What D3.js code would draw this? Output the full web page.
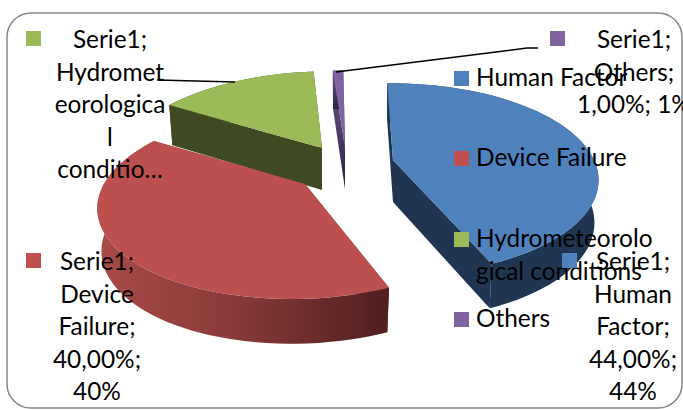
<!DOCTYPE html>
<html>
<head>
<meta charset="utf-8">
<script src="https://cdnjs.cloudflare.com/ajax/libs/d3/7.8.5/d3.min.js"></script>
<style>
html, body { margin: 0; padding: 0; background: #fff; }
svg { display: block; }
text { font-family: Lato, "Open Sans", sans-serif; font-size: 24.4px; fill: #000; }
</style>
</head>
<body>
<svg id="chart" width="683" height="410"></svg>
<script>
const categories = ["Human Factor", "Device Failure", "Hydrometeorological conditions", "Others"];
const shares = [44, 40, 15, 1];

const legendLines = [["Human Factor"], ["Device Failure"], ["Hydrometeorolo", "gical conditions"], ["Others"]];
const labelLines = [
  ["Serie1;", "Human", "Factor;", "44,00%;", "44%"],
  ["Serie1;", "Device", "Failure;", "40,00%;", "40%"],
  ["Serie1;", "Hydromet", "eorologica", "l", "conditio…"],
  ["Serie1;", "Others;", "1,00%; 1%"]
];

const topColors = ["#4f81bd", "#bc504e", "#9bbb59", "#8064a2"];
const sideColors = ["#1f3552", "url(#redSide)", "#404a22", "url(#purpleSide)"];
const markerColors = ["#4f81bd", "#c0504d", "#9bbb59", "#8064a2"];

// where each exploded slice has its tip, and how far it sits off the camera axis
const centers = [[393, 160], [305, 184], [322, 148], [345, 147]];
const camOffset = [10, -55, -38, -15];
const labelPos = [
  { mx: 562, my: 253, cx: 633, y: 270 },
  { mx: 26, my: 253, cx: 97, y: 270 },
  { mx: 26, my: 31, cx: 110, y: 48 },
  { mx: 550, my: 31, cx: 634, y: 48 }
];
const legendY = [71, 151, 232, 312];

const svg = d3.select("#chart");
const defs = svg.append("defs");

const redGrad = defs.append("linearGradient").attr("id", "redSide")
  .attr("gradientUnits", "userSpaceOnUse")
  .attr("x1", 100).attr("x2", 388).attr("y1", 0).attr("y2", 0);
redGrad.append("stop").attr("offset", 0).attr("stop-color", "#a84a48");
redGrad.append("stop").attr("offset", 0.45).attr("stop-color", "#8a3b39");
redGrad.append("stop").attr("offset", 1).attr("stop-color", "#4f1f1e");

const purpleGrad = defs.append("linearGradient").attr("id", "purpleSide")
  .attr("x1", 0).attr("x2", 0).attr("y1", 0).attr("y2", 1);
purpleGrad.append("stop").attr("offset", 0).attr("stop-color", "#6f5790");
purpleGrad.append("stop").attr("offset", 1).attr("stop-color", "#2c2140");

// plot frame
svg.append("rect")
  .attr("x", 7).attr("y", 13).attr("width", 675).attr("height", 395)
  .attr("rx", 24).attr("ry", 24)
  .attr("fill", "#fff").attr("stroke", "#868686").attr("stroke-width", 1.5);

const pie = d3.pie().sort(null).startAngle(-0.025).endAngle(2 * Math.PI - 0.025);
const arcs = pie(shares);

// flattened perspective: the near side of the disc is drawn bigger
const rx = d3.scaleLinear().domain([0, 1]).range([0, 201]);
const ry = d3.scaleLinear().domain([0, 1]).range([0, 92]);
const persp = 0.2;
const depth = 42;

function rim(i, a) {
  const center = centers[i];
  const u = Math.sin(a), v = -Math.cos(a);
  const s = 1 / (1 - persp * v);
  return [center[0] + rx(u) * s + camOffset[i] * (s - 1), center[1] + ry(v) * s];
}
function lower(center, p, a) {
  const v = a === null ? 0 : -Math.cos(a);
  return [center[0] + (p[0] - center[0]) * 0.98, center[1] + (p[1] - center[1]) * 0.98 + depth * (1 + 0.12 * v)];
}

const line = d3.line();
const drawOrder = [2, 3, 0, 1];

drawOrder.forEach(i => {
  const d = arcs[i], c = centers[i];
  const angles = d3.range(0, 61).map(k => d.startAngle + (d.endAngle - d.startAngle) * k / 60);
  const top = angles.map(a => rim(i, a));
  const bottom = angles.map((a, k) => lower(c, top[k], a));
  const cBottom = lower(c, c, null);
  const g = svg.append("g").attr("class", "slice");

  // cut faces, then outer wall, then the top
  [0, top.length - 1].forEach(k => {
    g.append("path")
      .attr("d", line([c, top[k], bottom[k], cBottom]) + "Z")
      .attr("fill", sideColors[i]);
  });
  g.append("path")
    .attr("d", line(top.concat(bottom.slice().reverse())) + "Z")
    .attr("fill", sideColors[i]);
  g.append("path")
    .attr("d", line([c].concat(top)) + "Z")
    .attr("fill", topColors[i]);
});

// leader lines
const leaders = [
  [[157, 80], [235, 82]],
  [[336, 72], [527, 48], [538, 48]]
];
svg.selectAll(".leader").data(leaders).join("path")
  .attr("class", "leader")
  .attr("d", d => line(d))
  .attr("fill", "none").attr("stroke", "#000").attr("stroke-width", 1.5);

// legend
categories.forEach((name, i) => {
  svg.append("rect")
    .attr("x", 454).attr("y", legendY[i]).attr("width", 15).attr("height", 15)
    .attr("fill", markerColors[i]);
  legendLines[i].forEach((t, j) => {
    svg.append("text").attr("x", 476).attr("y", legendY[i] + 15 + j * 33).text(t);
  });
});

// data labels
labelLines.forEach((lines, i) => {
  const p = labelPos[i];
  svg.append("rect")
    .attr("x", p.mx).attr("y", p.my).attr("width", 15).attr("height", 15)
    .attr("fill", markerColors[i]);
  lines.forEach((t, j) => {
    svg.append("text")
      .attr("x", p.cx).attr("y", p.y + j * 32.5)
      .attr("text-anchor", "middle").text(t);
  });
});
</script>
</body>
</html>
